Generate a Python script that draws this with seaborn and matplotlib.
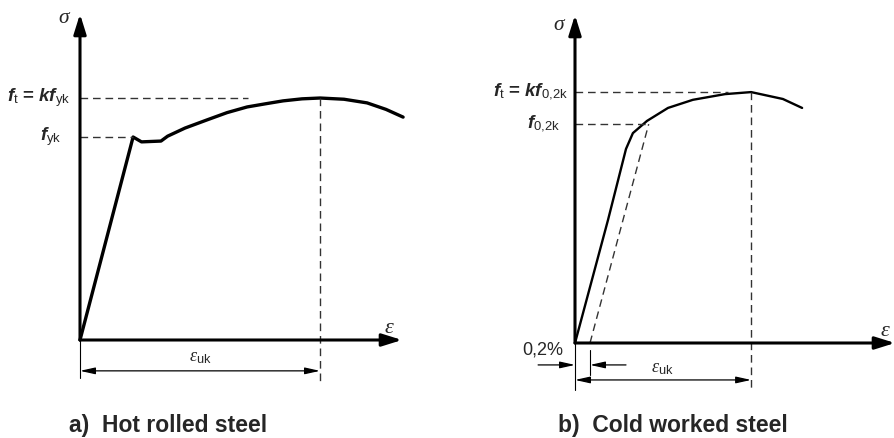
import numpy as np
import matplotlib
matplotlib.use("Agg")
import matplotlib.pyplot as plt
import seaborn as sns

# hot rolled steel: strain (arbitrary units) / stress (MPa)
hot_strain = [0, 1.77, 2.05, 2.7, 2.92, 3.5, 4.23, 4.9, 5.57, 6.2, 6.77, 7.4, 8.0, 8.8, 9.57, 10.2, 10.77]
hot_stress = [0, 500, 488, 490, 502, 522, 542, 560, 574, 582, 589, 594, 596, 593, 584, 568, 549]

# cold worked steel
cold_strain = [0, 1.1, 1.7, 1.93, 2.4, 3.1, 3.93, 5.0, 5.87, 6.93, 7.57]
cold_stress = [0, 303, 478, 517, 547, 579, 599, 613, 618, 601, 579]
offset_strain = 0.5          # the "0,2%" offset
f02k = 539

PX_X = 30.0     # pixels per strain unit
PX_Y = 0.406    # pixels per stress unit

sns.set_theme(style="white")
plt.rcParams["mathtext.fontset"] = "custom"
plt.rcParams["mathtext.rm"] = "Liberation Sans"
plt.rcParams["mathtext.it"] = "Liberation Serif:italic"
plt.rcParams["mathtext.bf"] = "Liberation Sans:bold"
plt.rcParams["mathtext.bfit"] = "Liberation Sans:italic:bold"
plt.rcParams["font.family"] = ["Liberation Sans", "DejaVu Sans"]

fig = plt.figure(figsize=(8.95, 4.38), dpi=100)
ax1 = fig.add_axes([0, 0, 447 / 895, 1])
ax2 = fig.add_axes([447 / 895, 0, 448 / 895, 1])
ax1.set_xlim(-80 / PX_X, 367 / PX_X)
ax1.set_ylim(-98 / PX_Y, 340 / PX_Y)
ax2.set_xlim(-128 / PX_X, 320 / PX_X)
ax2.set_ylim(-95 / PX_Y, 343 / PX_Y)

dash = dict(color="#333333", lw=1.0, linestyle=(0, (5.5, 3.5)))
axis_arrow = dict(arrowstyle="-|>,head_length=0.8,head_width=0.25", lw=2.2,
                  color="black", mutation_scale=15, shrinkA=0, shrinkB=0)
dim_arrow = dict(arrowstyle="<|-|>,head_length=0.9,head_width=0.2", lw=0.9,
                 color="black", mutation_scale=10, shrinkA=0, shrinkB=0)
one_arrow = dict(arrowstyle="-|>,head_length=0.9,head_width=0.2", lw=0.9,
                 color="black", mutation_scale=10, shrinkA=0, shrinkB=0)


def draw_axes(ax, xtip, ytip):
    ax.annotate("", xy=(xtip, 0), xytext=(0, 0), arrowprops=axis_arrow)
    ax.annotate("", xy=(0, ytip), xytext=(0, 0), arrowprops=axis_arrow)


# ---- a) hot rolled
ax = ax1
fyk = hot_stress[1]
ft = max(hot_stress)
eps_uk = hot_strain[int(np.argmax(hot_stress))]
sns.lineplot(x=hot_strain, y=hot_stress, ax=ax, color="black", lw=2.4, sort=False)
draw_axes(ax, 322 / PX_X, 326 / PX_Y)
ax.plot([0, hot_strain[1]], [fyk, fyk], **dash)
ax.plot([0, 5.6], [ft, ft], **dash)
ax.plot([eps_uk, eps_uk], [ft, -111], **dash)
ax.plot([0, 0], [0, -94], color="black", lw=0.8)
ax.annotate("", xy=(eps_uk, -76), xytext=(0, -76), arrowprops=dim_arrow)
ax.text(eps_uk / 2, -44, r"$\varepsilon_{\mathrm{uk}}$", ha="center", va="center", fontsize=13)
ax.text(-0.33, ft, r"$\mathbfit{f}_{\mathrm{t}}\,\mathbf{=}\,\mathbfit{kf}_{\mathrm{yk}}$",
        ha="right", va="center", fontsize=13.5)
ax.text(-0.6, fyk, r"$\mathbfit{f}_{\mathrm{yk}}$", ha="right", va="center", fontsize=13.5)
ax.text(-0.5, 795, r"$\sigma$", ha="center", va="center", fontsize=15.5)
ax.text(10.3, 32, r"$\varepsilon$", ha="center", va="center", fontsize=16)
ax.text(2.93, -210, "a)  Hot rolled steel", ha="center", va="center",
        fontsize=16.5, fontweight="bold")

# ---- b) cold worked
ax = ax2
ft = max(cold_stress)
eps_uk = cold_strain[int(np.argmax(cold_stress))]
slope = cold_stress[1] / cold_strain[1]
sns.lineplot(x=cold_strain, y=cold_stress, ax=ax, color="black", lw=1.7, sort=False)
draw_axes(ax, 320 / PX_X, 328 / PX_Y)
ax.plot([offset_strain, offset_strain + f02k / slope], [0, f02k], **dash)
ax.plot([0, offset_strain + f02k / slope], [f02k, f02k], **dash)
ax.plot([0, 5.1], [ft, ft], **dash)
ax.plot([eps_uk, eps_uk], [ft, -111], **dash)
ax.plot([0, 0], [0, -116], color="black", lw=0.8)
ax.plot([offset_strain, offset_strain], [-17, -79], color="black", lw=0.8)
ax.annotate("", xy=(0, -54), xytext=(-1.23, -54), arrowprops=one_arrow)
ax.annotate("", xy=(offset_strain, -54), xytext=(1.7, -54), arrowprops=one_arrow)
ax.annotate("", xy=(eps_uk, -91), xytext=(0, -91), arrowprops=dim_arrow)
ax.text(2.9, -64, r"$\varepsilon_{\mathrm{uk}}$", ha="center", va="center", fontsize=13)
ax.text(-1.07, -18, "0,2%", ha="center", va="center", fontsize=13)
ax.text(-0.22, ft, r"$\mathbfit{f}_{\mathrm{t}}\,\mathbf{=}\,\mathbfit{kf}_{\mathrm{0{,}2k}}$",
        ha="right", va="center", fontsize=13.5)
ax.text(-0.5, f02k, r"$\mathbfit{f}_{\mathrm{0{,}2k}}$", ha="right", va="center", fontsize=13.5)
ax.text(-0.5, 785, r"$\sigma$", ha="center", va="center", fontsize=15.5)
ax.text(10.33, 32, r"$\varepsilon$", ha="center", va="center", fontsize=16)
ax.text(3.27, -203, "b)  Cold worked steel", ha="center", va="center",
        fontsize=16.5, fontweight="bold")

for a in (ax1, ax2):
    a.axis("off")

fig.savefig("out.png", dpi=100)
